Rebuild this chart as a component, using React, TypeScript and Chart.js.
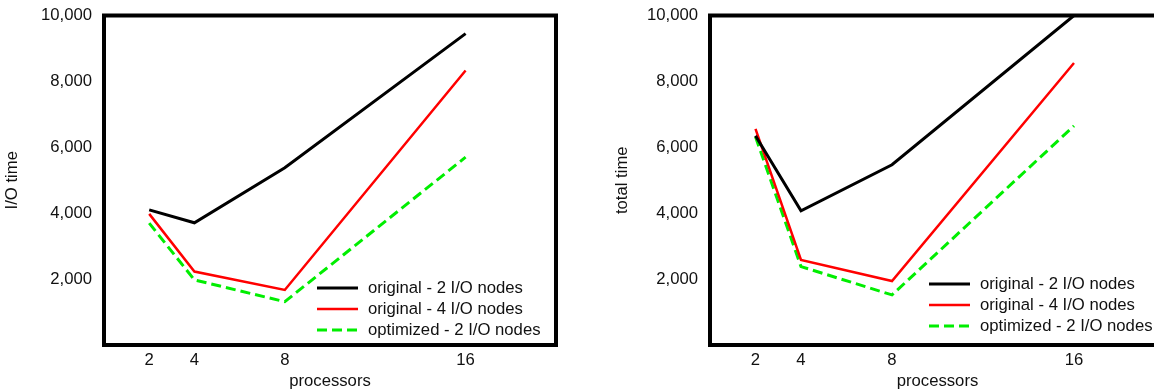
import React, { useEffect, useRef } from "react";
import { Chart, registerables } from "chart.js";

Chart.register(...registerables);

// ---- data ----
const processors = [2, 4, 8, 16];
const xTicks = [2, 4, 8, 16];
const yTicks = [2000, 4000, 6000, 8000, 10000];

const seriesLabels = ["original - 2 I/O nodes", "original - 4 I/O nodes", "optimized - 2 I/O nodes"];

const ioOrig2 = [4100, 3710, 5380, 9450];
const ioOrig4 = [3980, 2230, 1670, 8330];
const ioOpt2 = [3700, 1975, 1315, 5700];

const totalOrig2 = [6350, 4070, 5470, 10000];
const totalOrig4 = [6560, 2580, 1940, 8560];
const totalOpt2 = [6320, 2380, 1520, 6650];

const FONT_FAMILY = "'Liberation Sans', Arial, Helvetica, sans-serif";
const FONT_SIZE = 16.7;
const TEXT_COLOR = "#111";

const framePlugin = {
  id: "frame",
  afterDatasetsDraw(chart: any) {
    const { ctx, chartArea } = chart;
    ctx.save();
    ctx.strokeStyle = "#000";
    ctx.lineWidth = 4;
    ctx.strokeRect(chartArea.left, chartArea.top, chartArea.right - chartArea.left, chartArea.bottom - chartArea.top);
    ctx.restore();
  },
};

const insideLegend = {
  id: "insideLegend",
  afterDraw(chart: any, _args: any, opts: any) {
    const ctx = chart.ctx;
    ctx.save();
    chart.data.datasets.forEach((ds: any, i: number) => {
      const y = opts.y + i * opts.dy;
      ctx.beginPath();
      ctx.strokeStyle = ds.borderColor;
      ctx.lineWidth = ds.borderWidth;
      ctx.setLineDash(ds.borderDash || []);
      ctx.moveTo(opts.x, y);
      ctx.lineTo(opts.x + opts.len, y);
      ctx.stroke();
      ctx.setLineDash([]);
      ctx.fillStyle = TEXT_COLOR;
      ctx.font = `${FONT_SIZE}px ${FONT_FAMILY}`;
      ctx.textBaseline = "middle";
      ctx.textAlign = "left";
      ctx.fillText(ds.label, opts.x + opts.len + opts.gap, y);
    });
    ctx.restore();
  },
};

function makeDatasets(a: number[], b: number[], c: number[]) {
  const mk = (vals: number[]) => processors.map((x, i) => ({ x, y: vals[i] }));
  return [
    { label: seriesLabels[0], data: mk(a), borderColor: "#000000", borderWidth: 3, pointRadius: 0, fill: false, tension: 0 },
    { label: seriesLabels[1], data: mk(b), borderColor: "#ff0000", borderWidth: 2.5, pointRadius: 0, fill: false, tension: 0 },
    { label: seriesLabels[2], data: mk(c), borderColor: "#00ee00", borderWidth: 3, borderDash: [10, 5], pointRadius: 0, fill: false, tension: 0 },
  ];
}

function makeConfig(datasets: any[], yTitle: string, yAxisWidth: number, yTitlePad: number, rightPad: number, legend: any): any {
  const font = { family: FONT_FAMILY, size: FONT_SIZE };
  return {
    type: "line",
    data: { datasets },
    plugins: [framePlugin, insideLegend],
    options: {
      responsive: false,
      animation: false,
      devicePixelRatio: 1,
      layout: { padding: { top: 15.5, right: rightPad, bottom: 0, left: 0 } },
      plugins: {
        legend: { display: false },
        tooltip: { enabled: false },
        insideLegend: legend,
      },
      scales: {
        x: {
          type: "linear",
          min: 0,
          max: 20,
          afterBuildTicks: (scale: any) => {
            scale.ticks = xTicks.map((v) => ({ value: v }));
          },
          afterFit: (scale: any) => {
            scale.height = 47;
          },
          grid: { display: false, drawTicks: true, tickLength: 3 },
          border: { display: false },
          ticks: { color: TEXT_COLOR, font, padding: 2, maxRotation: 0, autoSkip: false, callback: (v: any) => String(v) },
          title: { display: true, text: "processors", color: TEXT_COLOR, font, padding: { top: 0, bottom: 1 } },
        },
        y: {
          type: "linear",
          min: 0,
          max: 10000,
          afterBuildTicks: (scale: any) => {
            scale.ticks = yTicks.map((v) => ({ value: v }));
          },
          afterFit: (scale: any) => {
            scale.width = yAxisWidth;
            scale.paddingTop = 0;
            scale.paddingBottom = 0;
          },
          grid: { display: false, drawTicks: true, tickLength: 10 },
          border: { display: false },
          ticks: {
            color: TEXT_COLOR,
            font,
            padding: 2,
            callback: (v: any) => Number(v).toLocaleString("en-US"),
          },
          title: { display: true, text: yTitle, color: TEXT_COLOR, font, padding: { top: yTitlePad, bottom: 0 } },
        },
      },
    },
  };
}

export default function App() {
  const leftRef = useRef<HTMLCanvasElement>(null);
  const rightRef = useRef<HTMLCanvasElement>(null);

  useEffect(() => {
    const left = new Chart(
      leftRef.current as HTMLCanvasElement,
      makeConfig(makeDatasets(ioOrig2, ioOrig4, ioOpt2), "I/O time", 104, 2, 21, { x: 317, y: 288, dy: 21, len: 41, gap: 10 })
    );
    const right = new Chart(
      rightRef.current as HTMLCanvasElement,
      makeConfig(makeDatasets(totalOrig2, totalOrig4, totalOpt2), "total time", 133, 35, 21, { x: 352, y: 284, dy: 21, len: 41, gap: 10 })
    );
    return () => {
      left.destroy();
      right.destroy();
    };
  }, []);

  return (
    <div style={{ position: "absolute", left: 0, top: 0, width: 1154, height: 392, overflow: "hidden", background: "#fff" }}>
      <div style={{ position: "absolute", left: 0, top: 0, width: 577, height: 392 }}>
        <canvas ref={leftRef} width={577} height={392} style={{ display: "block", width: 577, height: 392 }} />
      </div>
      <div style={{ position: "absolute", left: 577, top: 0, width: 609, height: 392 }}>
        <canvas ref={rightRef} width={609} height={392} style={{ display: "block", width: 609, height: 392 }} />
      </div>
    </div>
  );
}
